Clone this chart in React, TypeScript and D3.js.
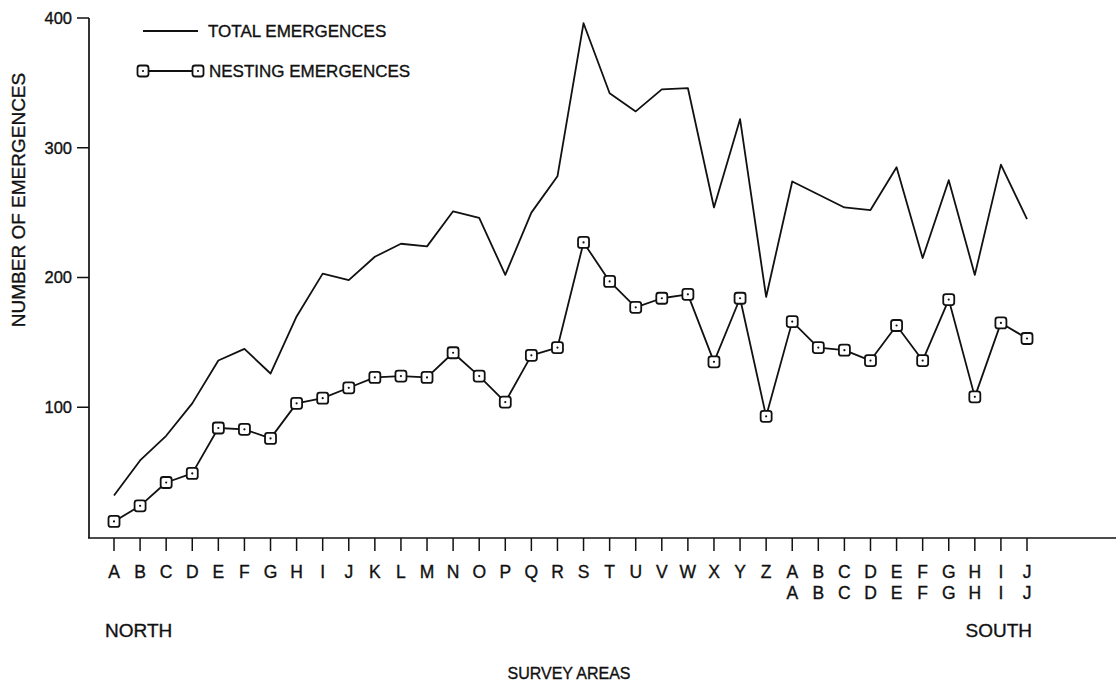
import React from "react";
import * as d3 from "d3";

const areas: string[] = [
  "A","B","C","D","E","F","G","H","I","J","K","L","M","N","O","P","Q","R","S","T","U","V","W","X","Y","Z",
  "AA","BB","CC","DD","EE","FF","GG","HH","II","JJ",
];
const totalEmergences: number[] = [
  32, 59, 78, 103, 136, 145, 126, 170, 203, 198, 216, 226, 224, 251, 246, 202, 250, 278,
  396, 342, 328, 345, 346, 254, 322, 185, 274, 264, 254, 252, 285, 215, 275, 202, 287, 245,
];
const nestingEmergences: number[] = [
  12, 24, 42, 49, 84, 83, 76, 103, 107, 115, 123, 124, 123, 142, 124, 104, 140, 146,
  227, 197, 177, 184, 187, 135, 184, 93, 166, 146, 144, 136, 163, 136, 183, 108, 165, 153,
];
const yTicks: number[] = [100, 200, 300, 400];

const W = 1116;
const H = 684;
const FONT = "'Liberation Sans', Arial, Helvetica, sans-serif";
const INK = "#111";
const TXT = { fill: INK, stroke: INK, strokeWidth: 0.35 };

function Marker({ x, y }: { x: number; y: number }) {
  return (
    <g>
      <rect x={x - 5.5} y={y - 5.5} width={11} height={11} rx={2.5} fill="#fff" stroke={INK} strokeWidth={1.8} />
      <circle cx={x} cy={y} r={1.1} fill={INK} />
    </g>
  );
}

export default function App() {
  const x = d3.scalePoint<string>().domain(areas).range([114, 1027]);
  const y = d3.scaleLinear().domain([0, 400]).range([537, 18]);
  const line = d3
    .line<number>()
    .x((_, i) => x(areas[i]) as number)
    .y((d) => y(d));

  return (
    <svg
      width={W}
      height={H}
      style={{ position: "absolute", left: 0, top: 0, background: "#fff" }}
      fontFamily={FONT}
    >
      <rect x={0} y={0} width={W} height={H} fill="#fff" />
      {/* axes */}
      <line x1={89} y1={y(400)} x2={89} y2={538} stroke={INK} strokeWidth={1.7} />
      <line x1={88} y1={538} x2={W} y2={538} stroke={INK} strokeWidth={1.7} />
      {yTicks.map((t) => (
        <g key={t}>
          <line x1={77} x2={89} y1={y(t)} y2={y(t)} stroke={INK} strokeWidth={1.5} />
          <text x={72} y={y(t)} dy="0.36em" textAnchor="end" fontSize={16.5} {...TXT}>
            {t}
          </text>
        </g>
      ))}
      {areas.map((a) => {
        const xx = x(a) as number;
        return (
          <g key={a}>
            <line x1={xx} x2={xx} y1={538} y2={551} stroke={INK} strokeWidth={1.5} />
            <text x={xx} y={578} textAnchor="middle" fontSize={17.5} {...TXT}>
              {a[0]}
            </text>
            {a.length > 1 && (
              <text x={xx} y={599} textAnchor="middle" fontSize={17.5} {...TXT}>
                {a[1]}
              </text>
            )}
          </g>
        );
      })}
      <text x={105} y={637} fontSize={19} {...TXT}>NORTH</text>
      <text x={1032} y={637} textAnchor="end" fontSize={19} {...TXT}>SOUTH</text>
      <text x={569} y={679} textAnchor="middle" fontSize={16} {...TXT}>SURVEY AREAS</text>
      <text
        transform={`translate(25,200) rotate(-90)`}
        textAnchor="middle"
        fontSize={19}
        {...TXT}
      >
        NUMBER OF EMERGENCES
      </text>

      {/* series */}
      <path d={line(totalEmergences) ?? ""} fill="none" stroke={INK} strokeWidth={1.8} strokeLinejoin="round" />
      <path d={line(nestingEmergences) ?? ""} fill="none" stroke={INK} strokeWidth={1.8} strokeLinejoin="round" />
      {nestingEmergences.map((v, i) => (
        <Marker key={i} x={x(areas[i]) as number} y={y(v)} />
      ))}

      {/* legend */}
      <line x1={143} x2={198} y1={31} y2={31} stroke={INK} strokeWidth={1.8} />
      <text x={208} y={31} dy="0.36em" fontSize={17} {...TXT}>TOTAL EMERGENCES</text>
      <line x1={143} x2={198} y1={71} y2={71} stroke={INK} strokeWidth={1.8} />
      <Marker x={143} y={71} />
      <Marker x={198} y={71} />
      <text x={209} y={71} dy="0.36em" fontSize={17} {...TXT}>NESTING EMERGENCES</text>
    </svg>
  );
}
